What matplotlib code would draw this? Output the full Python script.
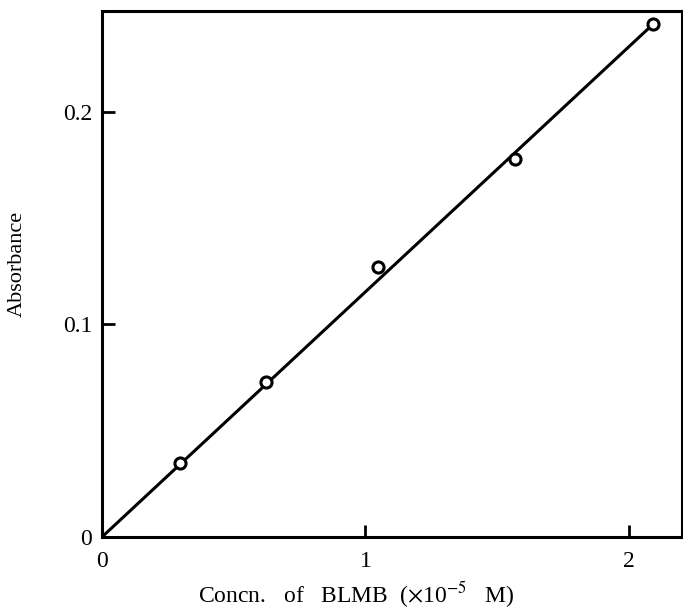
import matplotlib.pyplot as plt

plt.rcParams["font.family"] = ["Liberation Serif", "DejaVu Serif"]
plt.rcParams["mathtext.fontset"] = "stix"

# Data
conc = [0.296, 0.622, 1.047, 1.567, 2.091]        # x10^-5 M
absorbance = [0.0348, 0.0729, 0.127, 0.178, 0.2414]

# Fitted straight line through the origin
fit_x = [0.0, 2.08]
fit_y = [0.0, 0.2400]

fig = plt.figure(figsize=(6.83, 6.13), dpi=100)
ax = fig.add_axes([0.1493, 0.124, 0.8492, 0.858])

ax.plot(fit_x, fit_y, color="black", linewidth=2.2, zorder=2)
ax.plot(conc, absorbance, linestyle="none", marker="o", markersize=8,
        markerfacecolor="white", markeredgecolor="black",
        markeredgewidth=2.2, zorder=3)

ax.set_xlim(0, 2.201)
ax.set_ylim(0, 0.2475)

ax.set_xticks([0, 1, 2])
ax.set_xticklabels(["0", "1", "2"])
ax.set_yticks([0, 0.1, 0.2])
ax.set_yticklabels(["0", "0.1", "0.2"])

ax.tick_params(axis="both", direction="in", length=9, width=2,
               labelsize=17)
ax.tick_params(axis="x", pad=10)
ax.tick_params(axis="y", pad=7)

for side in ["left", "right", "top", "bottom"]:
    ax.spines[side].set_linewidth(2.2)

ax.set_xlabel(r"Concn.   of   BLMB  ($\times$10$^{-5}$   M)", fontsize=17)
ax.xaxis.set_label_coords(0.438, -0.080)
ax.set_ylabel("Absorbance", fontsize=16)
ax.yaxis.set_label_coords(-0.13, 0.52)

fig.savefig("out.png", dpi=100)
